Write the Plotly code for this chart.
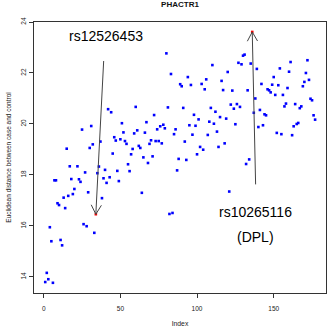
import math
import plotly.graph_objects as go

# ---------------- data ----------------
index = [1, 2, 3, 4, 5, 6, 7, 8, 9, 10, 11, 12, 13, 14, 15, 16, 17, 18, 19, 20,
         22, 23, 24, 25, 26, 27, 28, 29, 30, 31, 32, 33, 34, 35, 36, 37, 38, 39, 40,
         41, 42, 43, 44, 45, 46, 47, 48, 49, 50, 51, 52, 53, 54, 55, 56, 57, 58, 59, 60,
         61, 62, 63, 64, 65, 66, 67, 68, 69, 70, 71, 72, 73, 74, 75, 76, 77, 78, 79, 80,
         81, 82, 83, 84, 85, 86, 87, 88, 89, 90, 91, 92, 93, 94, 95, 96, 97, 98, 99, 100,
         101, 102, 103, 104, 105, 106, 107, 108, 109, 110, 111, 112, 113, 114, 115, 116, 117, 118, 119, 120,
         121, 122, 123, 124, 125, 126, 127, 128, 129, 130, 131, 132, 133, 134, 135, 136, 137, 138, 139, 140,
         141, 142, 143, 144, 145, 146, 147, 148, 149, 150, 151, 152, 153, 154, 155, 156, 157, 158, 159, 160,
         161, 162, 163, 164, 165, 166, 167, 168, 169, 170, 171, 172, 173, 174, 175, 176, 177]

distance = [13.80, 14.16, 13.91, 15.95, 15.40, 13.77, 17.79, 17.79, 16.89, 16.82,
            15.45, 15.24, 17.11, 16.70, 19.03, 17.18, 18.34, 17.84, 17.25, 17.45,
            18.34, 17.83, 17.73, 19.78, 16.07, 18.10, 15.99, 17.32, 19.06, 19.92,
            19.20, 15.73, 16.46, 18.07, 18.33, 19.31, 17.09, 17.87, 18.20,
            17.69, 20.58, 17.91, 20.46, 18.84, 19.48, 19.35, 18.16, 17.76, 19.40,
            20.03, 19.67, 19.33, 19.22, 18.42, 18.15, 18.81, 19.02, 19.63, 20.67,
            19.75, 19.14, 19.06, 17.30, 18.69, 19.66, 20.07, 18.47, 19.22, 19.36,
            18.73, 20.35, 19.33, 19.79, 19.33, 19.91, 19.24, 19.97, 19.83, 22.77,
            20.65, 16.47, 21.96, 16.51, 19.60, 19.79, 18.18, 18.63, 21.56, 21.48,
            20.63, 19.31, 18.59, 21.84, 19.95, 21.53, 19.58, 20.36, 19.93, 18.81,
            20.18, 19.10, 21.57, 18.99, 21.36, 21.75, 19.57, 20.09, 20.63, 22.31,
            20.01, 20.48, 19.70, 19.10, 20.27, 21.69, 21.33, 19.24, 20.21, 22.04,
            17.35, 20.76, 21.31, 20.60, 19.99, 20.78, 22.40, 20.67, 22.34, 22.68,
            22.72, 18.43, 21.32, 18.61, 22.37, 23.61, 20.44, 21.00, 22.16, 19.88,
            20.55, 21.57, 19.95, 20.38, 20.34, 21.36, 21.32, 21.24, 21.54, 21.84,
            21.14, 19.65, 21.52, 22.18, 19.60, 21.14, 20.69, 20.80, 21.41, 22.05,
            22.43, 19.56, 19.91, 20.78, 20.00, 20.04, 20.62, 20.69, 21.48, 21.65,
            22.00, 22.50, 21.73, 20.99, 20.93, 20.34, 20.17]

highlight_index = [34, 136]
snp_labels = ["rs12526453", "rs10265116"]
gene_label = "(DPL)"
label_pos = [(40.3, 23.45), (138.2, 16.55)]
gene_pos = (137.8, 15.57)
arrow_tails = [(39.1, 22.47), (138.2, 17.63)]

x_ticks = [0, 50, 100, 150]
y_ticks = [14, 16, 18, 20, 22, 24]
title = "PHACTR1"
x_title = "Index"
y_title = "Euclidean distance between case and control"

# ---------------- layout constants ----------------
W, H = 327, 327
ML, MR, MT, MB = 34, 1, 22, 34
x_range = [-6.33, 184.1]
y_range = [13.37, 24.0]
FONT = "Liberation Sans, Arial, Helvetica, sans-serif"
AXIS_COL = "#333333"
TXT_COL = "#222222"

colors = ["red" if i in highlight_index else "blue" for i in index]

fig = go.Figure()
fig.add_trace(go.Scatter(
    x=index, y=distance, mode="markers",
    marker=dict(symbol="square", size=2.6, color=colors, line=dict(width=0)),
    showlegend=False, hoverinfo="x+y"))

# arrows: shaft + open V head (like R's arrows())
px_x = (W - ML - MR) / (x_range[1] - x_range[0])
px_y = (H - MT - MB) / (y_range[1] - y_range[0])
shapes = []
for (tx, ty), hi in zip(arrow_tails, highlight_index):
    hy = distance[index.index(hi)]
    hx = hi
    shapes.append(dict(type="line", xref="x", yref="y", x0=tx, y0=ty, x1=hx, y1=hy,
                       line=dict(color="#444444", width=1)))
    dx, dy = (tx - hx) * px_x, (ty - hy) * px_y
    n = math.hypot(dx, dy)
    ux, uy = dx / n, dy / n
    L = 10.5
    for ang in (math.radians(29), -math.radians(29)):
        ox = L * (ux * math.cos(ang) - uy * math.sin(ang))
        oy = L * (ux * math.sin(ang) + uy * math.cos(ang))
        shapes.append(dict(type="line", xref="x", yref="y",
                           xsizemode="pixel", xanchor=hx, x0=0, x1=ox,
                           ysizemode="pixel", yanchor=hy, y0=0, y1=oy,
                           line=dict(color="#444444", width=1)))

annotations = []
for (lx, ly), txt in zip(label_pos, snp_labels):
    annotations.append(dict(x=lx, y=ly, xref="x", yref="y", text=txt, showarrow=False,
                            font=dict(family=FONT, size=14, color="black")))
annotations.append(dict(x=gene_pos[0], y=gene_pos[1], xref="x", yref="y",
                        text=gene_label, showarrow=False,
                        font=dict(family=FONT, size=14, color="black")))

fig.update_layout(
    width=W, height=H,
    margin=dict(l=ML, r=MR, t=MT, b=MB, pad=0),
    paper_bgcolor="white", plot_bgcolor="white",
    font=dict(family=FONT, size=6.5, color=TXT_COL),
    title=dict(text="<b>" + title + "</b>", x=0.5, xref="paper",
               y=1 - 4.5 / H, yref="container", yanchor="middle", xanchor="center",
               font=dict(family=FONT, size=8, color="#111111")),
    xaxis=dict(range=x_range, tickvals=x_ticks, ticks="outside", ticklen=4,
               tickwidth=1, tickcolor=AXIS_COL, showline=True, mirror=True,
               linecolor=AXIS_COL, linewidth=1, showgrid=False, zeroline=False,
               tickfont=dict(family=FONT, size=6.5, color=TXT_COL), ticklabelstandoff=5,
               title=dict(text=x_title, font=dict(family=FONT, size=6.8, color=TXT_COL),
                          standoff=10)),
    yaxis=dict(range=y_range, tickvals=y_ticks, ticks="outside", ticklen=4,
               tickwidth=1, tickcolor=AXIS_COL, showline=True, mirror=True,
               linecolor=AXIS_COL, linewidth=1, showgrid=False, zeroline=False,
               tickangle=-90, tickfont=dict(family=FONT, size=6.5, color=TXT_COL),
               ticklabelstandoff=0,
               title=dict(text=y_title, font=dict(family=FONT, size=6.5, color=TXT_COL),
                          standoff=8)),
    shapes=shapes, annotations=annotations,
)

fig.write_html("out.html", config={"displayModeBar": False},
               post_script="document.body.style.margin='0px';")
